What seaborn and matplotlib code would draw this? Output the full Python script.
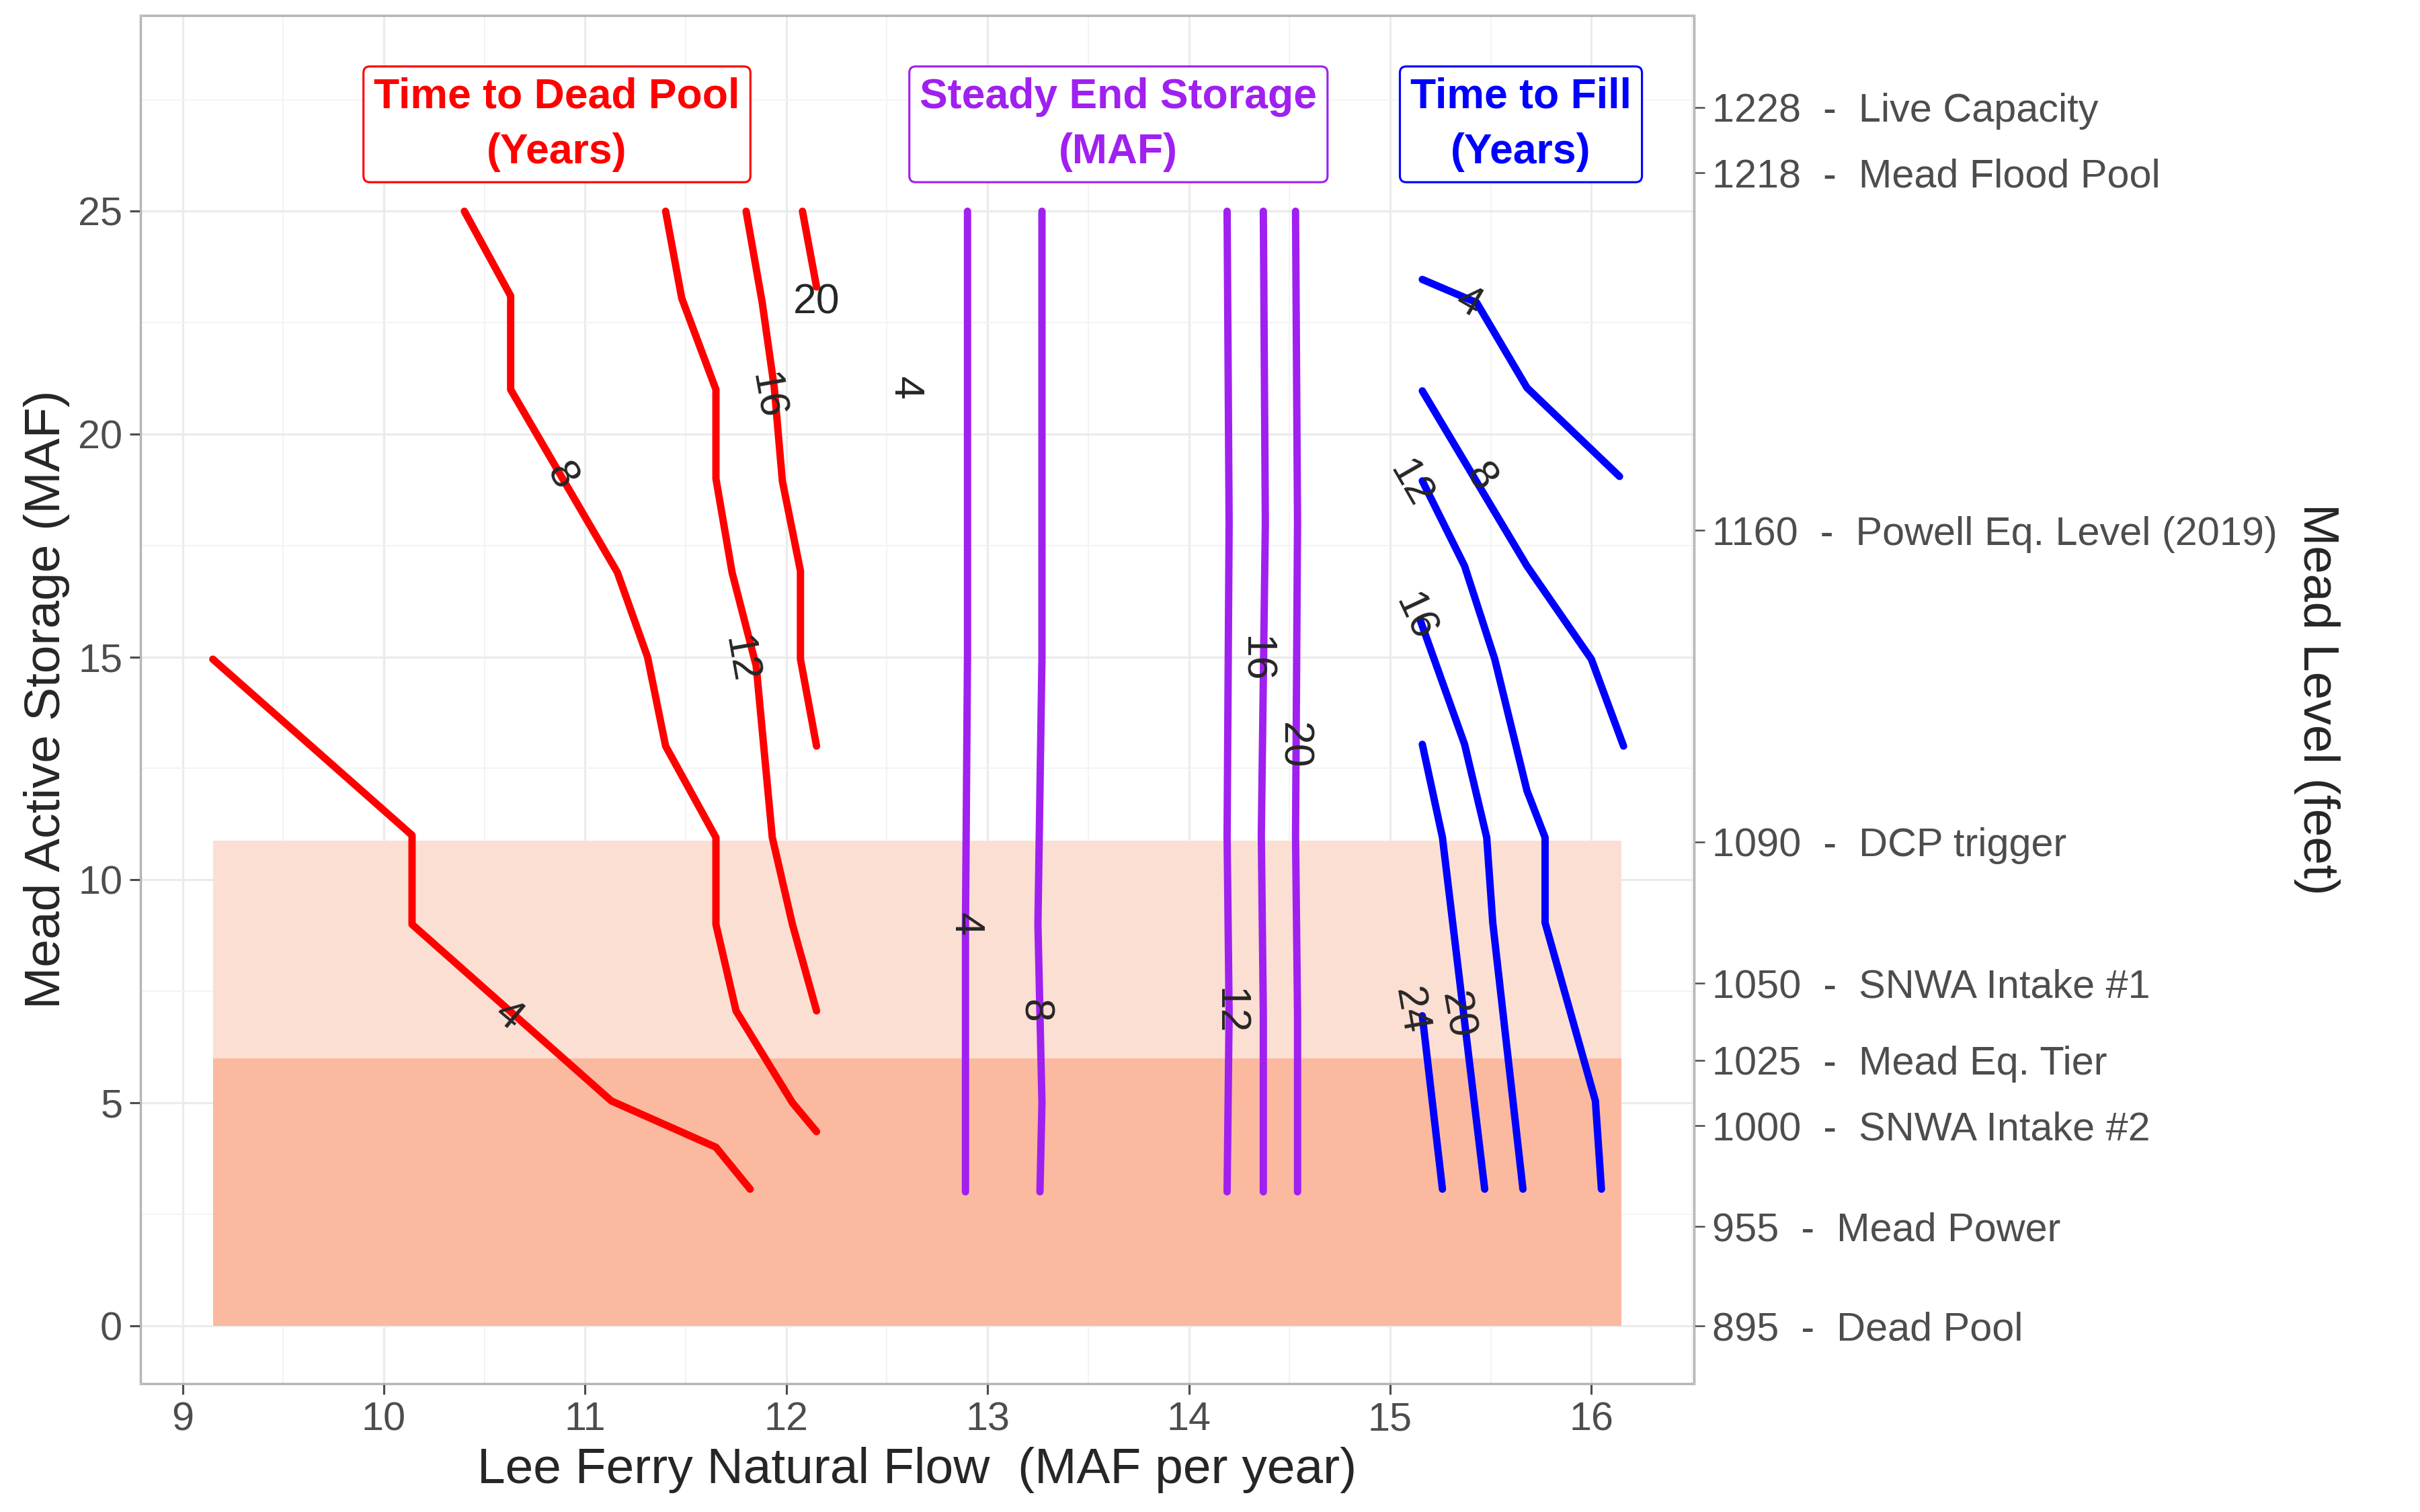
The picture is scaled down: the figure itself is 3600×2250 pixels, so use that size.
import pandas as pd
import seaborn as sns
import matplotlib as mpl
import matplotlib.pyplot as plt

# contour lines: (group, level, x = Lee Ferry flow, y = Mead storage)
dead_4_x = [9.15, 10.14, 10.14, 11.13, 11.65, 11.82]
dead_4_y = [14.95, 11.0, 9.0, 5.04, 4.0, 3.06]
dead_8_x = [10.40, 10.63, 10.63, 11.16, 11.31, 11.40, 11.65, 11.65, 11.75, 12.03, 12.15]
dead_8_y = [25.0, 23.1, 21.0, 16.9, 15.0, 13.0, 10.95, 9.0, 7.06, 5.0, 4.35]
dead_12_x = [11.40, 11.48, 11.65, 11.65, 11.73, 11.85, 11.93, 12.03, 12.15]
dead_12_y = [25.0, 23.05, 21.0, 19.0, 16.9, 14.8, 10.95, 9.0, 7.06]
dead_16_x = [11.80, 11.88, 11.94, 11.98, 12.07, 12.07, 12.15]
dead_16_y = [25.0, 22.95, 21.04, 18.95, 16.93, 14.95, 13.0]
dead_20_x = [12.08, 12.15]
dead_20_y = [25.0, 23.3]

steady_4_x = [12.90, 12.90, 12.89, 12.89]
steady_4_y = [25.0, 15.0, 9.0, 3.0]
steady_8_x = [13.27, 13.27, 13.25, 13.27, 13.26]
steady_8_y = [25.0, 15.0, 9.0, 5.0, 3.0]
steady_12_x = [14.19, 14.20, 14.19, 14.20, 14.19]
steady_12_y = [25.0, 18.0, 11.0, 7.0, 3.0]
steady_16_x = [14.37, 14.38, 14.36, 14.37, 14.37]
steady_16_y = [25.0, 18.0, 11.0, 7.0, 3.0]
steady_20_x = [14.53, 14.54, 14.53, 14.54, 14.54]
steady_20_y = [25.0, 18.0, 11.0, 7.0, 3.0]

fill_4_x = [15.16, 15.43, 15.68, 16.14]
fill_4_y = [23.47, 22.95, 21.04, 19.05]
fill_8_x = [15.16, 15.68, 16.00, 16.16]
fill_8_y = [20.97, 17.04, 14.95, 13.0]
fill_12_x = [15.16, 15.37, 15.52, 15.68, 15.77, 15.77, 16.02, 16.05]
fill_12_y = [18.95, 17.04, 14.95, 12.0, 10.95, 9.04, 5.04, 3.06]
fill_16_x = [15.15, 15.37, 15.48, 15.51, 15.66]
fill_16_y = [15.82, 13.04, 10.95, 9.04, 3.06]
fill_20_x = [15.16, 15.26, 15.47]
fill_20_y = [13.04, 10.95, 3.06]
fill_24_x = [15.16, 15.26]
fill_24_y = [6.95, 3.06]

# contour labels: text, x, y
label_text = ['4', '8', '12', '16', '20',
              '4', '4', '8', '12', '16', '20',
              '4', '8', '12', '16', '20', '24']
label_x = [10.62, 10.88, 11.77, 11.90, 12.15,
           12.59, 12.89, 13.23, 14.20, 14.33, 14.52,
           15.39, 15.45, 15.10, 15.12, 15.33, 15.10]
label_y = [6.95, 19.05, 14.95, 20.86, 22.95,
           21.04, 9.0, 7.06, 7.06, 14.95, 13.0,
           22.95, 19.02, 18.88, 15.89, 6.95, 7.06]
label_rot = [-40, -60, -80, -80, 0,
             -90, -90, -90, -90, -90, -90,
             -30, -55, -60, -65, -80, -80]

# Mead level reference
mead_level_ft = [1228, 1218, 1160, 1090, 1050, 1025, 1000, 955, 895]
mead_level_name = ['Live Capacity', 'Mead Flood Pool', 'Powell Eq. Level (2019)', 'DCP trigger',
                   'SNWA Intake #1', 'Mead Eq. Tier', 'SNWA Intake #2', 'Mead Power', 'Dead Pool']
mead_level_maf = [27.33, 25.87, 17.84, 10.85, 7.68, 5.95, 4.49, 2.23, 0.0]

# shaded zones
zone_x = [9.15, 16.15]
zone_top = [10.88, 6.0]
zone_color = ['#FCDFD3', '#FBB9A0']

groups = {
    'dead': ('red', [(dead_4_x, dead_4_y), (dead_8_x, dead_8_y), (dead_12_x, dead_12_y),
                     (dead_16_x, dead_16_y), (dead_20_x, dead_20_y)]),
    'steady': ('#A020F0', [(steady_4_x, steady_4_y), (steady_8_x, steady_8_y), (steady_12_x, steady_12_y),
                           (steady_16_x, steady_16_y), (steady_20_x, steady_20_y)]),
    'fill': ('blue', [(fill_4_x, fill_4_y), (fill_8_x, fill_8_y), (fill_12_x, fill_12_y),
                      (fill_16_x, fill_16_y), (fill_20_x, fill_20_y), (fill_24_x, fill_24_y)]),
}

sns.set_style("whitegrid")
plt.rcParams['font.family'] = ['Liberation Sans', 'DejaVu Sans']
fig, ax = plt.subplots(figsize=(16, 10), dpi=225)

for top, col in zip(zone_top, zone_color):
    ax.fill_between(zone_x, [0, 0], [top, top], color=col, linewidth=0, zorder=1)

for name, (col, lines) in groups.items():
    for xs, ys in lines:
        df = pd.DataFrame({'x': xs, 'y': ys})
        sns.lineplot(data=df, x='x', y='y', sort=False, estimator=None, errorbar=None,
                     color=col, linewidth=3.5, ax=ax, zorder=3)

for t, x, y, r in zip(label_text, label_x, label_y, label_rot):
    ax.text(x, y, t, rotation=r, ha='center', va='center', fontsize=20, zorder=4)

box_kw = dict(ha='center', va='center', fontsize=20, fontweight='bold', linespacing=1.5, zorder=5)
ax.text(10.86, 26.95, 'Time to Dead Pool\n(Years)', color='red',
        bbox=dict(boxstyle='round,pad=0.25,rounding_size=0.15', fc='white', ec='red'), **box_kw)
ax.text(13.65, 26.95, 'Steady End Storage\n(MAF)', color='#A020F0',
        bbox=dict(boxstyle='round,pad=0.25,rounding_size=0.15', fc='white', ec='#A020F0'), **box_kw)
ax.text(15.65, 26.95, 'Time to Fill\n(Years)', color='blue',
        bbox=dict(boxstyle='round,pad=0.25,rounding_size=0.15', fc='white', ec='blue'), **box_kw)

ax.set_xlim(8.79, 16.51)
ax.set_ylim(-1.3, 29.4)
ax.set_xticks(range(9, 17))
ax.set_yticks([0, 5, 10, 15, 20, 25])
ax.xaxis.set_minor_locator(mpl.ticker.MultipleLocator(0.5))
ax.yaxis.set_minor_locator(mpl.ticker.MultipleLocator(2.5))
ax.grid(which='major', color='#EBEBEB', linewidth=1.0)
ax.grid(which='minor', color='#F3F3F3', linewidth=0.6)
ax.set_xlabel('Lee Ferry Natural Flow  (MAF per year)', fontsize=24)
ax.set_ylabel('Mead Active Storage (MAF)', fontsize=24)
ax.tick_params(axis='both', labelsize=19, colors='#4D4D4D', length=5, width=1, left=True, bottom=True)
ax.tick_params(which='minor', length=0)
for s in ax.spines.values():
    s.set_color('#333333')
    s.set_linewidth(1)

ax2 = ax.twinx()
ax2.set_ylim(ax.get_ylim())
ax2.set_yticks(mead_level_maf)
ax2.set_yticklabels([f'{ft}  -  {nm}' for ft, nm in zip(mead_level_ft, mead_level_name)])
ax2.tick_params(axis='y', labelsize=19, colors='#4D4D4D', length=5)
ax2.grid(False)
ax2.set_ylabel('Mead Level (feet)', fontsize=24, rotation=270, labelpad=30)

plt.subplots_adjust(left=0.058, right=0.70, top=0.99, bottom=0.085)
plt.savefig('out.png')
